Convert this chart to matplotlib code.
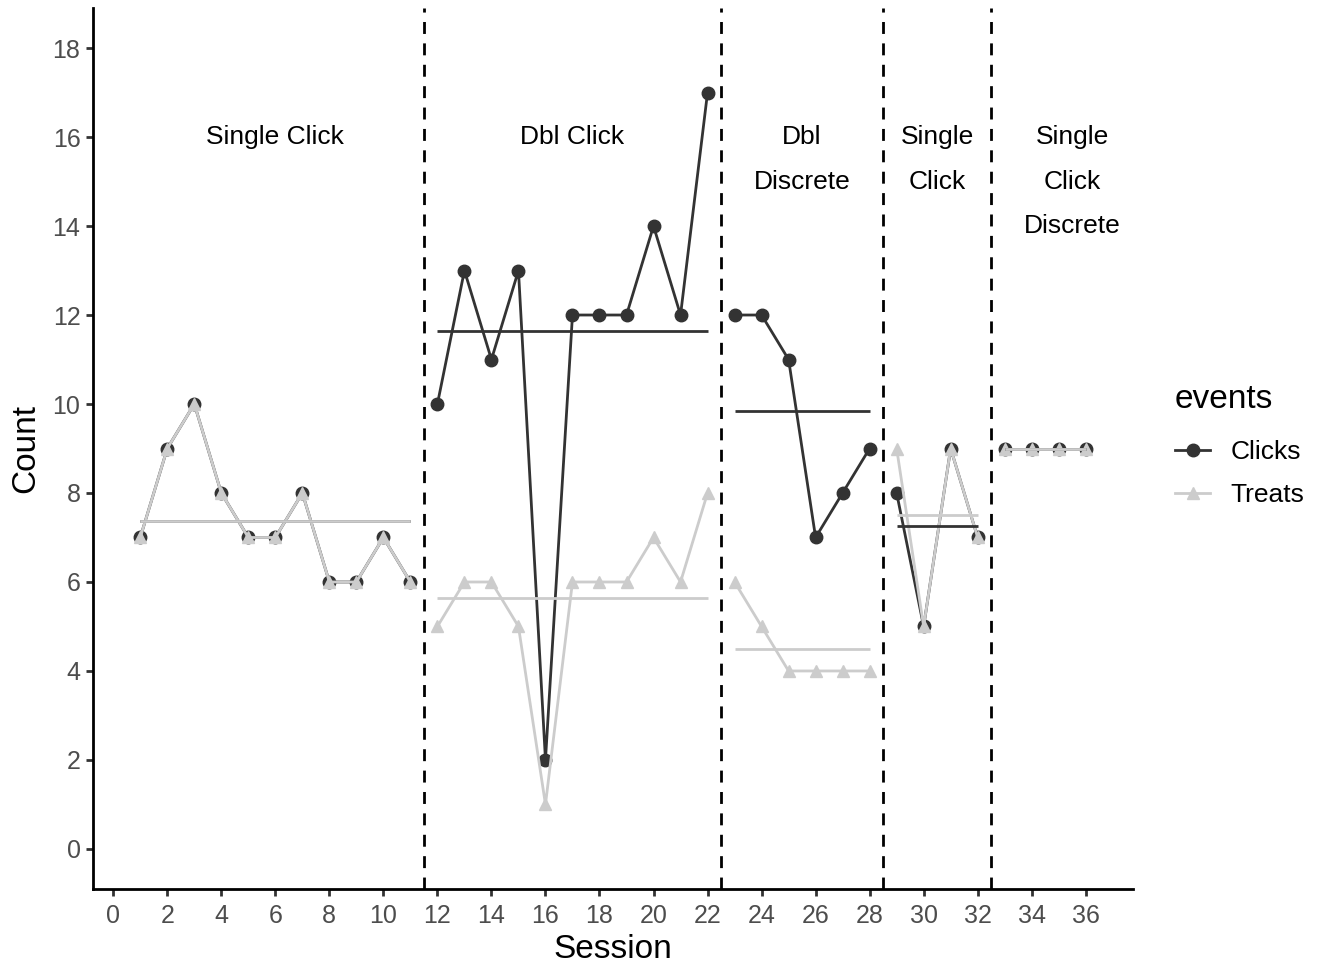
import matplotlib
matplotlib.use("Agg")
import matplotlib.pyplot as plt
from matplotlib.lines import Line2D
import numpy as np

plt.rcParams['font.family'] = ['Liberation Sans', 'DejaVu Sans']

# ---- data ----
sessions = list(range(1, 37))
clicks = [7, 9, 10, 8, 7, 7, 8, 6, 6, 7, 6,
          10, 13, 11, 13, 2, 12, 12, 12, 14, 12, 17,
          12, 12, 11, 7, 8, 9,
          8, 5, 9, 7,
          9, 9, 9, 9]
treats = [7, 9, 10, 8, 7, 7, 8, 6, 6, 7, 6,
          5, 6, 6, 5, 1, 6, 6, 6, 7, 6, 8,
          6, 5, 4, 4, 4, 4,
          9, 5, 9, 7,
          9, 9, 9, 9]
phase_bounds = [(1, 11), (12, 22), (23, 28), (29, 32), (33, 36)]
phase_breaks = [11.5, 22.5, 28.5, 32.5]
phase_labels = ["Single Click", "Dbl Click", "Dbl\nDiscrete", "Single\nClick", "Single\nClick\nDiscrete"]
label_x = [6, 17, 25.5, 30.5, 35.5]
label_y = 16
x_ticks = list(range(0, 37, 2))
y_ticks = list(range(0, 19, 2))

series = [("Clicks", clicks, "#333333", "o"), ("Treats", treats, "#CCCCCC", "^")]

fig = plt.figure(figsize=(13.26, 9.68), dpi=100)
ax = fig.add_axes([93/1326, 1-889/968, (1133-93)/1326, (889-8)/968])

s = np.array(sessions)
for name, vals, col, mk in series:
    v = np.array(vals)
    for (a, b) in phase_bounds:
        m = (s >= a) & (s <= b)
        ax.plot(s[m], v[m], color=col, lw=2, marker=mk, markersize=9, zorder=3)
for name, vals, col, mk in series:
    v = np.array(vals)
    for (a, b) in phase_bounds:
        m = (s >= a) & (s <= b)
        ax.hlines(v[m].mean(), a, b, color=col, lw=2, zorder=4)

for xb in phase_breaks:
    ax.axvline(xb, color='black', lw=2, linestyle=(0, (4.3, 3.4)), zorder=2)

for lab, lx in zip(phase_labels, label_x):
    for i, line in enumerate(lab.split("\n")):
        ax.text(lx, label_y - i, line, ha='center', va='center', fontsize=19, color='black')

ax.set_xlim(-0.75, 37.75)
ax.set_ylim(-0.9, 18.9)
ax.set_xticks(x_ticks)
ax.set_yticks(y_ticks)
for sp in ['top', 'right']:
    ax.spines[sp].set_visible(False)
for sp in ['left', 'bottom']:
    ax.spines[sp].set_linewidth(2)
    ax.spines[sp].set_color('black')
ax.tick_params(axis='both', length=5, width=2, color='#333333', labelcolor='#4D4D4D',
               labelsize=18)
ax.tick_params(axis='x', pad=6)
ax.tick_params(axis='y', pad=4)
ax.set_xlabel("Session", fontsize=24, labelpad=4)
ax.set_ylabel("Count", fontsize=24, labelpad=8)

handles = [Line2D([], [], color=c, lw=2, marker=m, markersize=9) for _, _, c, m in series]
leg = fig.legend(handles, [n for n, _, _, _ in series], title="events",
                 loc='upper left', bbox_to_anchor=(1151/1326, 1-360/968),
                 frameon=False, fontsize=19, title_fontsize=24,
                 handlelength=1.35, labelspacing=0.72, handletextpad=0.75)
leg._legend_box.align = "left"
leg._legend_box.sep = 18

fig.savefig("out.png", dpi=100)
